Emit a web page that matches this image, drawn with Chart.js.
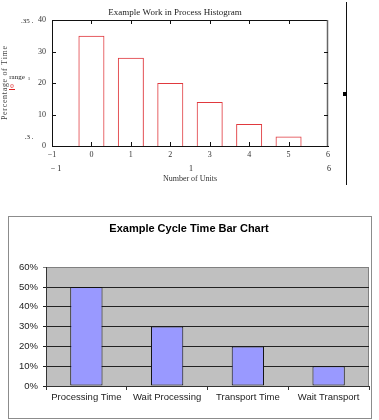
<!DOCTYPE html>
<html>
<head>
<meta charset="utf-8">
<script src="https://cdn.jsdelivr.net/npm/chart.js@4.4.1/dist/chart.umd.min.js"></script>
<style>
  html, body { margin: 0; padding: 0; background: #fff; }
  body { position: relative; width: 379px; height: 420px; overflow: hidden; }
  #wip { position: absolute; left: 0; top: 0; }
  #cycleBox { position: absolute; left: 8px; top: 216px; width: 362px; height: 201px; border: 1px solid #8c8c8c; }
  #cycle { display: block; }
</style>
</head>
<body>
<canvas id="wip" width="379" height="200"></canvas>
<div id="cycleBox"><canvas id="cycle" width="362" height="201"></canvas></div>
<script>
// top chart: work in process histogram
const units = [0, 1, 2, 3, 4, 5];
const timePct = [35, 28, 20, 14, 7, 3];
const unitTicks = [-1, 0, 1, 2, 3, 4, 5, 6];
const pctTicks = [0, 10, 20, 30, 40];

// bottom chart: cycle time bar chart
const steps = ['Processing Time', 'Wait Processing', 'Transport Time', 'Wait Transport'];
const cycleShare = [0.5, 0.3, 0.2, 0.1];
const shareTicks = [0, 0.1, 0.2, 0.3, 0.4, 0.5, 0.6];

const serif = 'Liberation Serif, Times New Roman, serif';
const sans = 'Liberation Sans, Arial, sans-serif';

// letter-spaced axis title like the original
const spaced = s => s.split('').join('\u200A');

const wipDecor = {
  id: 'wipDecor',
  afterDraw(chart) {
    const { ctx, chartArea: a, scales: { x, y } } = chart;
    ctx.save();
    ctx.strokeStyle = '#111';
    ctx.lineWidth = 1;
    ctx.beginPath();
    // frame top + right
    ctx.moveTo(a.left, a.top + 0.5); ctx.lineTo(a.right, a.top + 0.5);
    ctx.stroke();
    ctx.strokeStyle = '#666';
    ctx.lineWidth = 1.5;
    ctx.beginPath();
    ctx.moveTo(a.right - 0.5, a.top); ctx.lineTo(a.right - 0.5, a.bottom);
    ctx.stroke();
    // inner tick marks
    ctx.strokeStyle = '#111';
    ctx.lineWidth = 1;
    ctx.beginPath();
    units.forEach(u => {
      const px = Math.round(x.getPixelForValue(u)) + 0.5;
      ctx.moveTo(px, a.bottom); ctx.lineTo(px, a.bottom - 4);
      ctx.moveTo(px, a.top); ctx.lineTo(px, a.top + 4);
    });
    pctTicks.slice(1, -1).forEach(v => {
      const py = Math.round(y.getPixelForValue(v)) + 0.5;
      ctx.moveTo(a.left, py); ctx.lineTo(a.left + 4, py);
      ctx.moveTo(a.right, py); ctx.lineTo(a.right - 4, py);
    });
    ctx.stroke();

    // title and stray labels
    ctx.fillStyle = '#222';
    ctx.textAlign = 'center';
    ctx.textBaseline = 'middle';
    ctx.font = '9px ' + serif;
    ctx.fillText('Example Work in Process Histogram', 175, 13);
    ctx.font = '7px ' + serif;
    ctx.fillText('.35 .', 27, 21);
    ctx.fillText('range', 17, 77);
    ctx.fillText('.3 .', 29, 137);
    ctx.font = '5px ' + serif;
    ctx.fillText('1', 29, 79);
    ctx.font = '8px ' + serif;
    ctx.fillText('\u2212 1', 56, 169);
    ctx.fillText('1', 191, 169);
    ctx.fillText('6', 329, 169);
    ctx.fillStyle = '#d22';
    ctx.font = '7px ' + serif;
    ctx.fillText('0', 12, 86);
    ctx.fillRect(9, 89, 6, 1);

    // side line with marker
    ctx.strokeStyle = '#111';
    ctx.beginPath();
    ctx.moveTo(346.5, 2); ctx.lineTo(346.5, 185);
    ctx.stroke();
    ctx.fillStyle = '#000';
    ctx.fillRect(343, 92, 4, 4);
    ctx.restore();
  }
};

new Chart(document.getElementById('wip'), {
  type: 'bar',
  data: {
    datasets: [{
      data: units.map((u, i) => ({ x: u, y: timePct[i] })),
      backgroundColor: 'rgba(0,0,0,0)',
      borderColor: '#e0393e',
      borderWidth: 1,
      borderSkipped: 'start',
      categoryPercentage: 1,
      barPercentage: 0.66
    }]
  },
  options: {
    responsive: false,
    animation: false,
    layout: { padding: { top: 20, right: 51, left: 0, bottom: 0 } },
    plugins: { legend: { display: false }, tooltip: { enabled: false } },
    scales: {
      x: {
        type: 'linear',
        min: -1,
        max: 6,
        offset: false,
        afterBuildTicks: s => { s.ticks = unitTicks.map(v => ({ value: v })); },
        ticks: {
          callback: v => String(v).replace('-', '\u2212'),
          font: { family: serif, size: 8 },
          color: '#333',
          padding: 4,
          maxRotation: 0,
          autoSkip: false
        },
        grid: { display: false, drawTicks: false },
        border: { color: '#111' },
        title: { display: true, text: 'Number of Units', font: { family: serif, size: 8 }, color: '#333', padding: { top: 0, bottom: 16 } },
        afterFit: s => { s.height = 54; }
      },
      y: {
        min: 0,
        max: 40,
        afterBuildTicks: s => { s.ticks = pctTicks.map(v => ({ value: v })); },
        ticks: { font: { family: serif, size: 8 }, color: '#333', padding: 6 },
        grid: { display: false, drawTicks: false },
        border: { color: '#111' },
        title: { display: true, text: spaced('Percentage of Time'), font: { family: serif, size: 8 }, color: '#444', padding: 0 },
        afterFit: s => { s.width = 52; }
      }
    }
  },
  plugins: [wipDecor]
});

const plotBg = {
  id: 'plotBg',
  beforeDraw(chart) {
    const { ctx, chartArea: a } = chart;
    ctx.save();
    ctx.fillStyle = '#c0c0c0';
    ctx.fillRect(a.left, a.top, a.right - a.left, a.bottom - a.top);
    ctx.strokeStyle = '#808080';
    ctx.lineWidth = 1;
    ctx.beginPath();
    ctx.moveTo(a.right - 0.5, a.top); ctx.lineTo(a.right - 0.5, a.bottom);
    ctx.stroke();
    ctx.restore();
  }
};

new Chart(document.getElementById('cycle'), {
  type: 'bar',
  data: {
    labels: steps,
    datasets: [{
      data: cycleShare,
      backgroundColor: '#9999ff',
      borderColor: '#111',
      borderWidth: 1,
      borderSkipped: false,
      categoryPercentage: 1,
      barPercentage: 0.4
    }]
  },
  options: {
    responsive: false,
    animation: false,
    layout: { padding: { right: 2 } },
    plugins: {
      legend: { display: false },
      tooltip: { enabled: false },
      title: {
        display: true,
        text: 'Example Cycle Time Bar Chart',
        font: { family: sans, size: 11, weight: 'bold' },
        color: '#000',
        padding: { top: 5, bottom: 32 }
      }
    },
    scales: {
      x: {
        grid: { offset: true, drawOnChartArea: false, tickLength: 4, color: '#333' },
        border: { color: '#333' },
        ticks: { font: { family: sans, size: 9.5 }, color: '#222', padding: 2, maxRotation: 0, autoSkip: false },
        afterFit: s => { s.height = 32; }
      },
      y: {
        min: 0,
        max: 0.6,
        afterBuildTicks: s => { s.ticks = shareTicks.map(v => ({ value: v })); },
        ticks: { callback: v => Math.round(v * 100) + '%', font: { family: sans, size: 9.5 }, color: '#222', padding: 5 },
        grid: { color: c => (c.tick && c.tick.value >= 0.59 ? '#808080' : '#222'), tickLength: 3 },
        border: { color: '#333' },
        afterFit: s => { s.width = 37; }
      }
    }
  },
  plugins: [plotBg]
});
</script>
</body>
</html>
